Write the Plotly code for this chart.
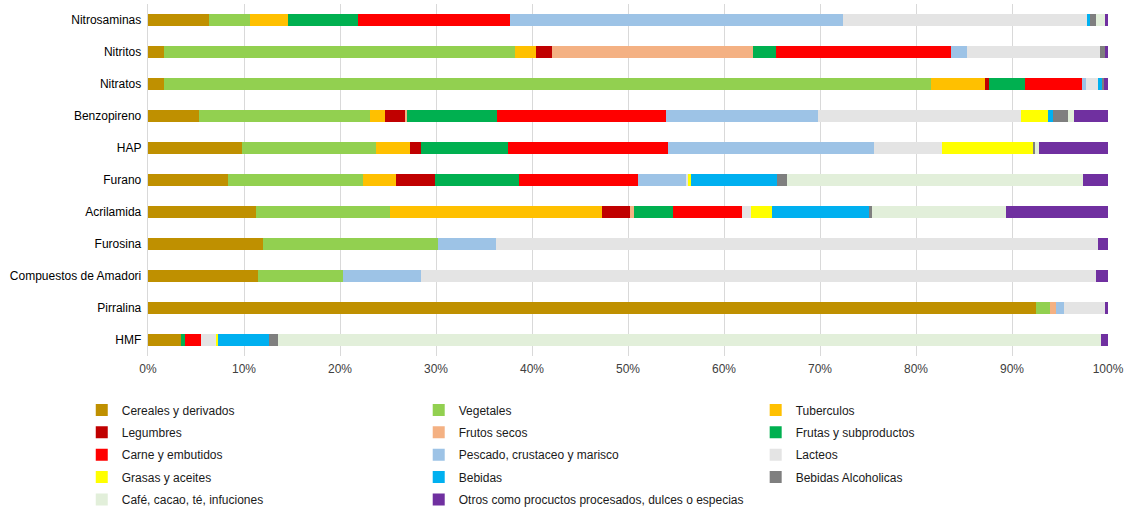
import plotly.graph_objects as go

categories = ["Nitrosaminas", "Nitritos", "Nitratos", "Benzopireno", "HAP", "Furano",
              "Acrilamida", "Furosina", "Compuestos de Amadori", "Pirralina", "HMF"]

series_names = ["Cereales y derivados", "Vegetales", "Tuberculos", "Legumbres", "Frutos secos",
                "Frutas y subproductos", "Carne y embutidos", "Pescado, crustaceo y marisco", "Lacteos",
                "Grasas y aceites", "Bebidas", "Bebidas Alcoholicas", "Café, cacao, té, infuciones",
                "Otros como procuctos procesados, dulces o especias"]

# values (%) per category, in the order of categories above
cereales     = [6.35, 1.67, 1.67, 5.35, 9.8, 8.3, 11.2, 12.0, 11.5, 92.5, 3.4]
vegetales    = [4.3, 36.6, 79.9, 17.75, 14.0, 14.1, 14.0, 18.2, 8.8, 1.5, 0]
tuberculos   = [3.95, 2.1, 5.6, 1.6, 3.5, 3.4, 22.1, 0, 0, 0, 0]
legumbres    = [0, 1.7, 0.4, 2.1, 1.1, 4.1, 2.9, 0, 0, 0, 0]
frutos_secos = [0, 21.0, 0, 0.2, 0, 0, 0.4, 0, 0, 0.6, 0]
frutas       = [7.3, 2.3, 3.8, 9.4, 9.1, 8.7, 4.1, 0, 0, 0, 0.5]
carne        = [15.8, 18.3, 5.9, 17.6, 16.7, 12.4, 7.2, 0, 0, 0, 1.6]
pescado      = [34.7, 1.6, 0.4, 15.8, 21.4, 5.0, 0, 6.1, 8.1, 0.8, 0]
lacteos      = [25.5, 13.9, 1.3, 21.1, 7.1, 0.3, 0.9, 62.7, 70.35, 4.3, 1.6]
grasas       = [0, 0, 0, 2.8, 9.5, 0.3, 2.2, 0, 0, 0, 0.15]
bebidas      = [0.2, 0, 0.45, 0.6, 0, 8.9, 10.1, 0, 0, 0, 5.4]
alcoholicas  = [0.65, 0.5, 0.15, 1.5, 0.2, 1.1, 0.35, 0, 0, 0, 0.85]
cafe         = [0.95, 0, 0, 0.7, 0.4, 30.8, 13.95, 0, 0, 0, 85.8]
otros        = [0.3, 0.3, 0.4, 3.5, 7.2, 2.6, 10.6, 1.0, 1.25, 0.3, 0.7]

series_values = [cereales, vegetales, tuberculos, legumbres, frutos_secos, frutas, carne,
                 pescado, lacteos, grasas, bebidas, alcoholicas, cafe, otros]

colors = ["#BF9000", "#92D050", "#FFC000", "#C00000", "#F4B183", "#00B050", "#FF0000",
          "#9DC3E6", "#E4E4E4", "#FFFF00", "#00B0F0", "#7F7F7F", "#E2EFDA", "#7030A0"]

tick_vals = [0, 10, 20, 30, 40, 50, 60, 70, 80, 90, 100]
tick_text = [f"{v}%" for v in tick_vals]

FONT = "Liberation Sans, Arial, sans-serif"
legend_keys = ["legend", "legend2", "legend3"]

fig = go.Figure()
for i, (name, vals, col) in enumerate(zip(series_names, series_values, colors)):
    fig.add_trace(go.Bar(
        y=categories, x=vals, name=name, orientation="h",
        marker=dict(color=col, line=dict(width=0)),
        legend=legend_keys[i % 3], legendgroup=name,
    ))

leg_common = dict(orientation="v", y=-0.112, yanchor="top", xanchor="left",
                  traceorder="grouped", tracegroupgap=3.4, itemwidth=30,
                  font=dict(family=FONT, size=12, color="#1a1a1a"),
                  bgcolor="rgba(0,0,0,0)")

fig.update_layout(
    barmode="stack",
    bargap=0.62,
    width=1128, height=512,
    margin=dict(l=148, r=20, t=4, b=156, autoexpand=False),
    plot_bgcolor="white", paper_bgcolor="white",
    font=dict(family=FONT, size=12, color="#404040"),
    xaxis=dict(range=[0, 100], tickvals=tick_vals, ticktext=tick_text,
               showgrid=True, gridcolor="#D9D9D9", gridwidth=1,
               zeroline=False, showline=False, ticks="", ticklabelstandoff=4,
               tickfont=dict(size=12, color="#404040")),
    yaxis=dict(autorange="reversed", showline=True, linecolor="#D9D9D9", linewidth=1,
               ticks="", tickfont=dict(size=12, color="#000000"), ticksuffix=" "),
    legend=dict(x=-0.069, **leg_common),
    legend2=dict(x=0.282, **leg_common),
    legend3=dict(x=0.633, **leg_common),
)

fig.write_html("out.html")
